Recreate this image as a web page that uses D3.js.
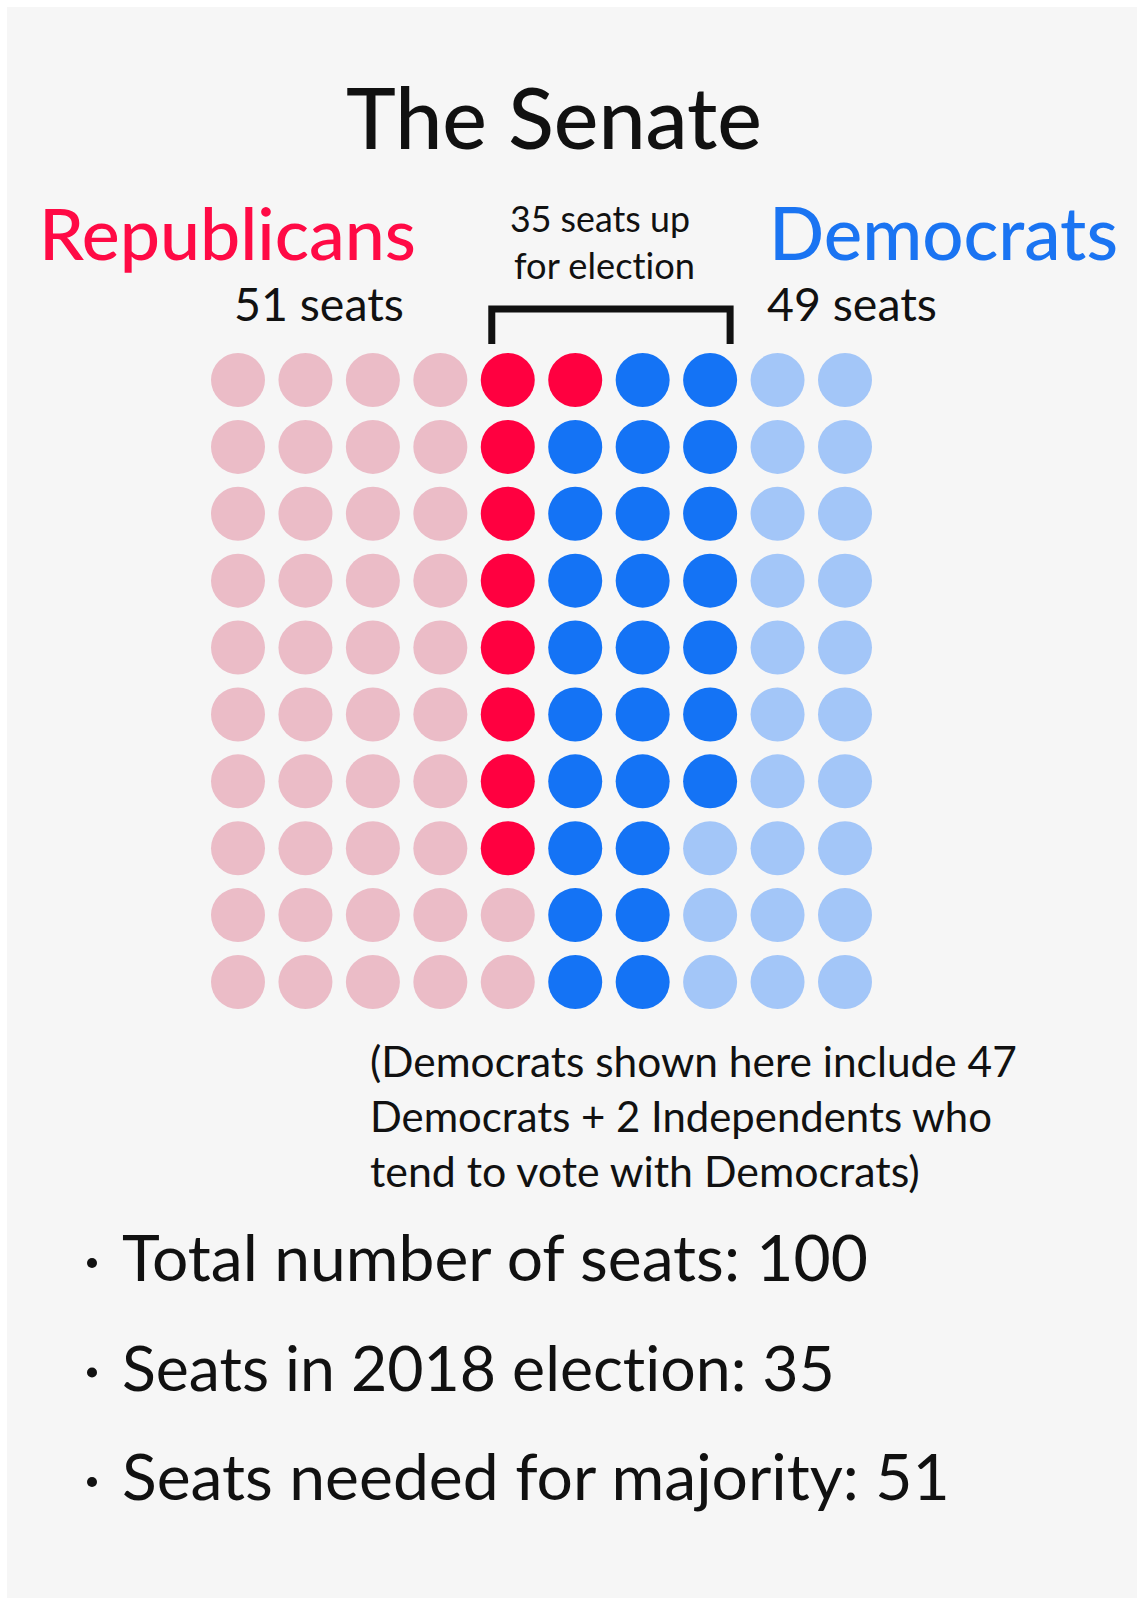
<!DOCTYPE html>
<html>
<head>
<meta charset="utf-8">
<script src="https://cdn.jsdelivr.net/npm/d3@7"></script>
<style>
  html, body { margin: 0; padding: 0; background: #ffffff; }
  svg { display: block; }
  text { font-variant-ligatures: none; font-feature-settings: "liga" 0, "clig" 0; }
</style>
</head>
<body>
<svg id="chart" width="1137" height="1598"></svg>
<script>
// ---- DATA ----
const title = "The Senate";
const parties = ["Republicans", "Democrats"];
const partySeats = [51, 49];
const upLabel = ["35 seats up", "for election"];
// Seat grid, one string per column (top to bottom):
// r = Republican not up, R = Republican up, D = Democrat up, d = Democrat not up
const seatColumns = [
  "rrrrrrrrrr",
  "rrrrrrrrrr",
  "rrrrrrrrrr",
  "rrrrrrrrrr",
  "RRRRRRRRrr",
  "RDDDDDDDDD",
  "DDDDDDDDDD",
  "DDDDDDDddd",
  "dddddddddd",
  "dddddddddd"
];
const seatTypes = ["r", "R", "D", "d"];
const seatColors = ["#ebbcc7", "#ff0040", "#1473f5", "#a3c6f8"];
const noteLines = [
  "(Democrats shown here include 47",
  "Democrats + 2 Independents who",
  "tend to vote with Democrats)"
];
const bullets = [
  "Total number of seats: 100",
  "Seats in 2018 election: 35",
  "Seats needed for majority: 51"
];

// ---- DRAW ----
const svg = d3.select("#chart");
const FONT = "Lato, 'Open Sans', sans-serif";

svg.append("rect").attr("x", 7).attr("y", 7).attr("width", 1130).attr("height", 1591).attr("fill", "#f6f6f6");

const seats = [];
seatColumns.forEach((col, ci) => {
  col.split("").forEach((code, ri) => seats.push({ col: ci, row: ri, code }));
});

const x = d3.scaleLinear().domain([0, seatColumns.length - 1]).range([238, 845]);
const y = d3.scaleLinear().domain([0, seatColumns[0].length - 1]).range([380, 982]);
const color = d3.scaleOrdinal().domain(seatTypes).range(seatColors);
const r = 27;

svg.append("g").selectAll("circle").data(seats).join("circle")
  .attr("cx", d => x(d.col))
  .attr("cy", d => y(d.row))
  .attr("r", r)
  .attr("fill", d => color(d.code));

// fit helper: scale font-size so text spans target width
function addText(str, xPos, yPos, width, size, fill, weight) {
  const t = svg.append("text")
    .attr("x", xPos).attr("y", yPos)
    .attr("font-family", FONT)
    .attr("font-weight", weight || 400)
    .attr("font-size", size)
    .attr("fill", fill || "#111")
    .text(str);
  const w = t.node().getComputedTextLength();
  if (w > 0 && width) {
    t.attr("font-size", size * width / w);
  }
  return t;
}

addText(title, 346, 149, 416, 82, "#111", 500);
addText(parties[0], 39, 260, 377, 72, "#ff0a45", 500);
addText(parties[1], 769, 260, 349, 72, "#1a74f2", 500);
addText(upLabel[0], 510, 232, 180, 32, "#111", 400);
addText(upLabel[1], 514, 279, 181, 32, "#111", 400);
addText(partySeats[0] + " seats", 234, 321, 170, 46, "#111", 400);
addText(partySeats[1] + " seats", 767, 321, 170, 46, "#111", 400);

// bracket over seats up for election (columns 4..7)
const bl = x(4) - 16, br = x(7) + 20, bt = 309, bb = 344;
svg.append("path")
  .attr("d", `M${bl},${bb}V${bt}H${br}V${bb}`)
  .attr("fill", "none").attr("stroke", "#111").attr("stroke-width", 7);

const noteW = [647, 622, 550];
noteLines.forEach((line, i) => {
  addText(line, 370, 1077 + i * 55, noteW[i], 40, "#111", 400);
});

const bulletW = [746, 713, 828];
bullets.forEach((b, i) => {
  const by = 1281 + i * 109.5;
  svg.append("circle").attr("cx", 92).attr("cy", by - 18).attr("r", 5).attr("fill", "#111");
  addText(b, 122, by, bulletW[i], 60, "#111", 400);
});
</script>
</body>
</html>
